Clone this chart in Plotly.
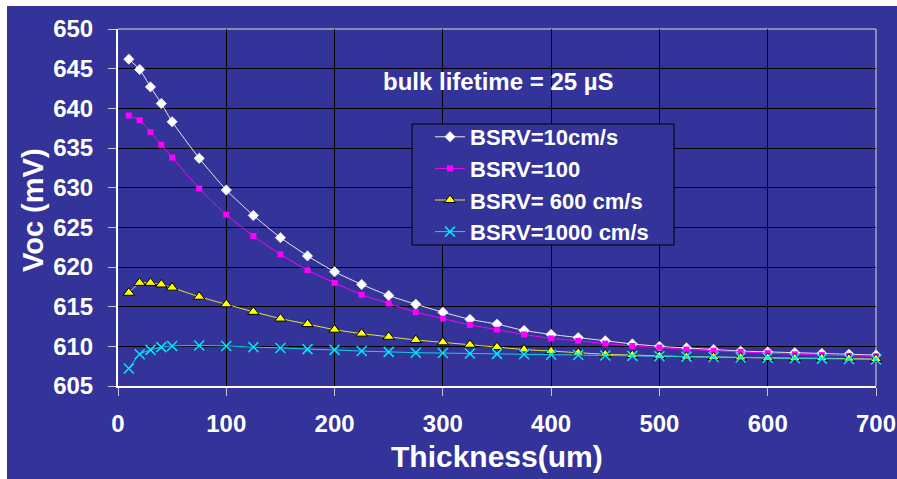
import plotly.graph_objects as go

thickness = [10, 20, 30, 40, 50, 75, 100, 125, 150, 175, 200, 225, 250, 275, 300,
             325, 350, 375, 400, 425, 450, 475, 500, 525, 550, 575, 600, 625, 650, 675, 700]

bsrv_10 = [646.2, 644.9, 642.7, 640.6, 638.3, 633.7, 629.7, 626.5, 623.7, 621.4, 619.4,
           617.8, 616.4, 615.3, 614.3, 613.4, 612.8, 612.0, 611.5, 611.1, 610.7, 610.3,
           610.0, 609.8, 609.6, 609.4, 609.3, 609.2, 609.1, 609.0, 608.9]
bsrv_100 = [639.1, 638.5, 637.0, 635.4, 633.8, 629.9, 626.6, 623.9, 621.6, 619.6, 618.0,
            616.5, 615.4, 614.3, 613.5, 612.7, 612.1, 611.5, 611.0, 610.7, 610.35, 610.05,
            609.85, 609.6, 609.45, 609.3, 609.15, 609.0, 608.9, 608.8, 608.75]
bsrv_600 = [616.75, 618.0, 618.0, 617.8, 617.4, 616.25, 615.3, 614.35, 613.5, 612.8, 612.1,
            611.6, 611.2, 610.8, 610.5, 610.2, 609.9, 609.6, 609.4, 609.2, 609.0, 608.9,
            608.8, 608.7, 608.65, 608.6, 608.55, 608.5, 608.5, 608.45, 608.4]
bsrv_1000 = [607.2, 609.0, 609.55, 609.9, 610.05, 610.1, 610.05, 609.9, 609.8, 609.65, 609.55,
             609.4, 609.3, 609.2, 609.15, 609.1, 609.05, 609.0, 608.95, 608.9, 608.85, 608.8,
             608.75, 608.7, 608.65, 608.6, 608.55, 608.5, 608.45, 608.4, 608.35]

series_names = ["BSRV=10cm/s", "BSRV=100", "BSRV= 600 cm/s", "BSRV=1000 cm/s"]

BLUE = "#333399"
FONT = "Liberation Sans, Arial, sans-serif"

W, H = 897, 479
L, R, T, B = 118, 21, 29, 93
PW, PH = W - L - R, H - T - B


def px(x):
    return (x - L) / PW


def py(y):
    return (H - B - y) / PH


fig = go.Figure()

fig.add_trace(go.Scatter(
    x=thickness, y=bsrv_10, name=series_names[0], mode="lines+markers",
    line=dict(color="#E8E8F0", width=1, shape="spline", smoothing=0.5),
    marker=dict(symbol="diamond", size=8, color="white",
                line=dict(color="white", width=0.5)),
    cliponaxis=False))
fig.add_trace(go.Scatter(
    x=thickness, y=bsrv_100, name=series_names[1], mode="lines+markers",
    line=dict(color="#FF00FF", width=1, shape="spline", smoothing=0.5),
    marker=dict(symbol="square", size=6, color="#FF00FF"),
    cliponaxis=False))
fig.add_trace(go.Scatter(
    x=thickness, y=bsrv_600, name=series_names[2], mode="lines+markers",
    line=dict(color="#E6E633", width=1, shape="spline", smoothing=0.5),
    marker=dict(symbol="triangle-up", size=10, color="#FFFF00",
                line=dict(color="black", width=1)),
    cliponaxis=False))
fig.add_trace(go.Scatter(
    x=thickness, y=bsrv_1000, name=series_names[3], mode="lines+markers",
    line=dict(color="#19D3E6", width=1, shape="spline", smoothing=0.5),
    marker=dict(symbol="x-thin", size=10, color="#00FFFF",
                line=dict(color="#00E8F8", width=1.5)),
    cliponaxis=False))

tickfont = dict(family=FONT, size=24, color="white", weight="bold")

fig.update_xaxes(
    range=[0, 700], dtick=100, tick0=0, automargin=False,
    showgrid=True, gridcolor="black", gridwidth=1,
    showline=True, linecolor="white", linewidth=2,
    ticks="outside", ticklen=8, tickcolor="#C8C8D8", tickwidth=1,
    tickfont=tickfont, ticklabelstandoff=7, zeroline=False)
fig.update_yaxes(
    range=[605, 650], dtick=5, tick0=605, automargin=False,
    showgrid=True, gridcolor="black", gridwidth=1,
    showline=True, linecolor="white", linewidth=2,
    ticks="outside", ticklen=8, tickcolor="#C8C8D8", tickwidth=1,
    tickfont=tickfont, ticklabelstandoff=10, zeroline=False)

shapes = [
    dict(type="rect", xref="paper", yref="paper", x0=px(7), x1=1.2, y0=-0.5, y1=py(6),
         fillcolor=BLUE, line=dict(width=0), layer="below"),
    dict(type="line", xref="paper", yref="paper", x0=0, x1=1, y0=1, y1=1,
         line=dict(color="#A8A8C0", width=1.5), layer="between"),
    dict(type="line", xref="paper", yref="paper", x0=1, x1=1, y0=0, y1=1,
         line=dict(color="#A8A8C0", width=1.5), layer="between"),
    dict(type="rect", xref="paper", yref="paper", x0=px(412), x1=px(674), y0=py(245), y1=py(124),
         fillcolor=BLUE, line=dict(color="black", width=1), layer="above"),
]

annotations = [
    dict(text="bulk lifetime = 25 µS", xref="paper", yref="paper", x=px(498), y=py(81),
         xanchor="center", yanchor="middle", showarrow=False,
         font=dict(family=FONT, size=24, color="white", weight="bold")),
    dict(text="Thickness(um)", xref="paper", yref="paper", x=px(497), y=py(456),
         xanchor="center", yanchor="middle", showarrow=False,
         font=dict(family=FONT, size=30, color="white", weight="bold")),
    dict(text="Voc (mV)", xref="paper", yref="paper", x=px(33), y=py(210),
         xanchor="center", yanchor="middle", showarrow=False, textangle=-90,
         font=dict(family=FONT, size=29, color="white", weight="bold")),
]

fig.update_layout(
    width=W, height=H,
    margin=dict(l=L, r=R, t=T, b=B, pad=0, autoexpand=False),
    paper_bgcolor="white", plot_bgcolor=BLUE,
    shapes=shapes, annotations=annotations,
    showlegend=True,
    legend=dict(x=px(430), y=py(116), xanchor="left", yanchor="top",
                bgcolor="rgba(0,0,0,0)", borderwidth=0,
                font=dict(family=FONT, size=22, color="white", weight="bold"),
                tracegroupgap=0, itemsizing="trace"),
)

fig.write_html("out.html")
